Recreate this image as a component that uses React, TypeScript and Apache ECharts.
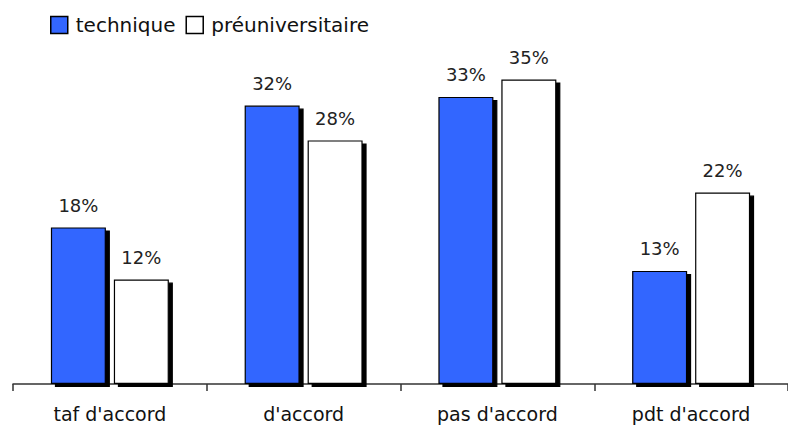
import React, { useEffect, useRef } from "react";
import * as echarts from "echarts";

const categories = ["taf d'accord", "d'accord", "pas d'accord", "pdt d'accord"];
const technique = [18, 32, 33, 13];
const preuniversitaire = [12, 28, 35, 22];
const seriesNames = ["technique", "préuniversitaire"];

export default function App() {
  const ref = useRef<HTMLDivElement>(null);
  useEffect(() => {
    if (!ref.current) return;
    const chart = echarts.init(ref.current, null, { renderer: "svg" });
    const font = "DejaVu Sans";
    const barStyle = (color: string) => ({
      color,
      borderColor: "#000",
      borderWidth: 1.2,
      shadowColor: "#000",
      shadowBlur: 0,
      shadowOffsetX: 4,
      shadowOffsetY: 3,
    });
    const label = {
      show: true,
      position: "top" as const,
      distance: 13,
      formatter: "{c}%",
      fontFamily: font,
      fontSize: 18,
      color: "#222",
    };
    chart.setOption({
      animation: false,
      backgroundColor: "#fff",
      legend: {
        left: 50,
        top: 15,
        padding: 0,
        itemWidth: 17,
        itemHeight: 17,
        itemGap: 10,
        icon: "rect",
        itemStyle: {
          borderColor: "#000",
          borderWidth: 1.5,
          shadowColor: "rgba(0,0,0,0)",
          shadowBlur: 0,
          shadowOffsetX: 0,
          shadowOffsetY: 0,
        },
        textStyle: { fontFamily: font, fontSize: 20, color: "#111", padding: [0, 0, 0, 3] },
        data: seriesNames,
      },
      grid: { left: 13, top: 36, width: 784, height: 348 },
      xAxis: {
        type: "category",
        data: categories,
        axisLine: { lineStyle: { color: "#333", width: 1.5 } },
        axisTick: { show: true, length: 7, lineStyle: { color: "#333", width: 1.5 } },
        axisLabel: { fontFamily: font, fontSize: 19, color: "#111", margin: 20 },
      },
      yAxis: {
        type: "value",
        min: 0,
        max: 40,
        show: false,
        splitLine: { show: false },
      },
      series: [
        {
          name: seriesNames[0],
          type: "bar",
          data: technique,
          barWidth: 55,
          barGap: "14.5%",
          itemStyle: barStyle("#3366FF"),
          label,
        },
        {
          name: seriesNames[1],
          type: "bar",
          data: preuniversitaire,
          barWidth: 55,
          barGap: "14.5%",
          itemStyle: barStyle("#FFFFFF"),
          label,
        },
      ],
    });
    return () => chart.dispose();
  }, []);
  return (
    <div
      ref={ref}
      style={{ position: "fixed", left: 0, top: 0, width: 788, height: 427, background: "#fff" }}
    />
  );
}
